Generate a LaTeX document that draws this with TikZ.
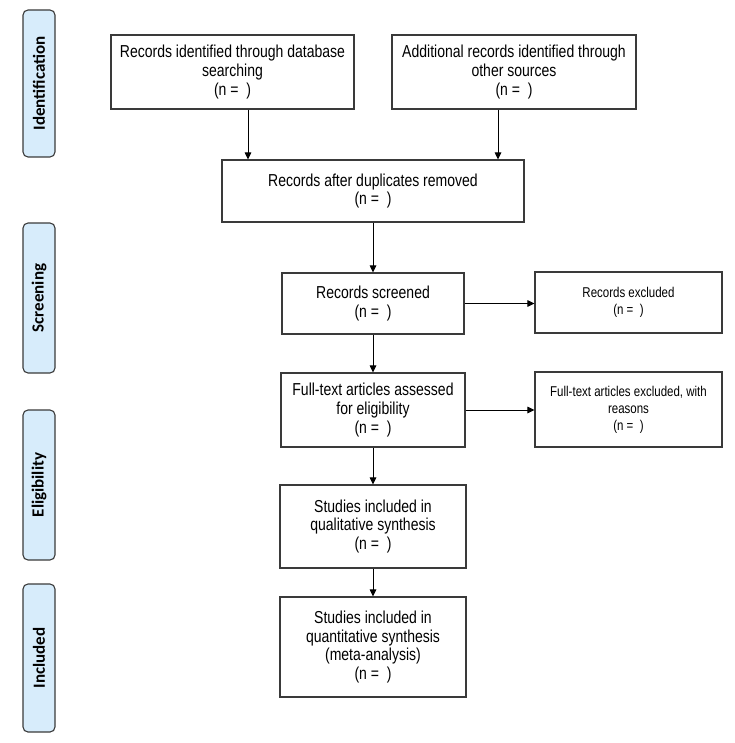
\documentclass[tikz,border=0pt]{standalone}
\usepackage{fontspec}
\setmainfont{Liberation Sans}
\newfontfamily\narrowfont{Liberation Sans}[FakeStretch=0.81]
\newfontfamily\sidefont{Carlito}
\usetikzlibrary{arrows.meta}
\definecolor{sidefill}{HTML}{D7ECFB}
\definecolor{edge}{HTML}{3A3A3A}
\tikzset{
  box/.style={draw=edge, line width=1.1pt, fill=white, align=center, inner sep=0pt,
    font=\narrowfont\fontsize{17.3pt}{18.8pt}\selectfont},
  smallbox/.style={box, font=\narrowfont\fontsize{14.2pt}{17pt}\selectfont},
  side/.style={draw=edge, line width=1.1pt, fill=sidefill, rounded corners=5pt,
    rotate=90, inner sep=0pt, minimum height=32pt,
    font=\sidefont\bfseries\fontsize{17pt}{18pt}\selectfont},
  arr/.style={draw=black, line width=1pt, -{Triangle[length=7pt,width=6.5pt]}}
}
\begin{document}
\begin{tikzpicture}[x=1pt,y=-1pt]
\useasboundingbox (0,0) rectangle (734,743);
% side labels
\node[side, minimum width=147pt] (sid) at (39,83.5) {Identification};
\node[side, minimum width=150pt] (ssc) at (39,298) {Screening};
\node[side, minimum width=150pt] (sel) at (39,485) {Eligibility};
\node[side, minimum width=148pt] (sin) at (39,658) {Included};
% boxes
\node[box, minimum width=243pt, minimum height=74pt] (db) at (232.5,72)
  {Records identified through database\\searching\\(n =~~)};
\node[box, minimum width=244pt, minimum height=74pt] (oth) at (514,72)
  {Additional records identified through\\other sources\\(n =~~)};
\node[box, minimum width=302pt, minimum height=62pt] (dup) at (373,191)
  {Records after duplicates removed\\(n =~~)};
\node[box, minimum width=182pt, minimum height=61pt] (scr) at (373,303.5)
  {Records screened\\(n =~~)};
\node[smallbox, minimum width=187pt, minimum height=61pt] (exc) at (628.5,302.5)
  {Records excluded\\(n =~~)};
\node[box, minimum width=184pt, minimum height=74pt] (ft) at (373,410)
  {Full-text articles assessed\\for eligibility\\(n =~~)};
\node[smallbox, minimum width=187pt, minimum height=75pt] (ftx) at (628.5,409.5)
  {Full-text articles excluded, with\\reasons\\(n =~~)};
\node[box, minimum width=186pt, minimum height=83pt] (qual) at (373,526.5)
  {Studies included in\\qualitative synthesis\\(n =~~)};
\node[box, minimum width=186pt, minimum height=100pt] (quant) at (373,647)
  {Studies included in\\quantitative synthesis\\(meta-analysis)\\(n =~~)};
% connectors
\coordinate (xa) at (248,0);
\coordinate (xb) at (498,0);
\draw[arr] (db.south -| xa) -- (dup.north -| xa);
\draw[arr] (oth.south -| xb) -- (dup.north -| xb);
\draw[arr] (dup.south) -- (scr.north);
\draw[arr] (scr.east) -- (exc.west |- scr.east);
\draw[arr] (scr.south) -- (ft.north);
\draw[arr] (ft.east) -- (ftx.west |- ft.east);
\draw[arr] (ft.south) -- (qual.north);
\draw[arr] (qual.south) -- (quant.north);
\end{tikzpicture}
\end{document}
